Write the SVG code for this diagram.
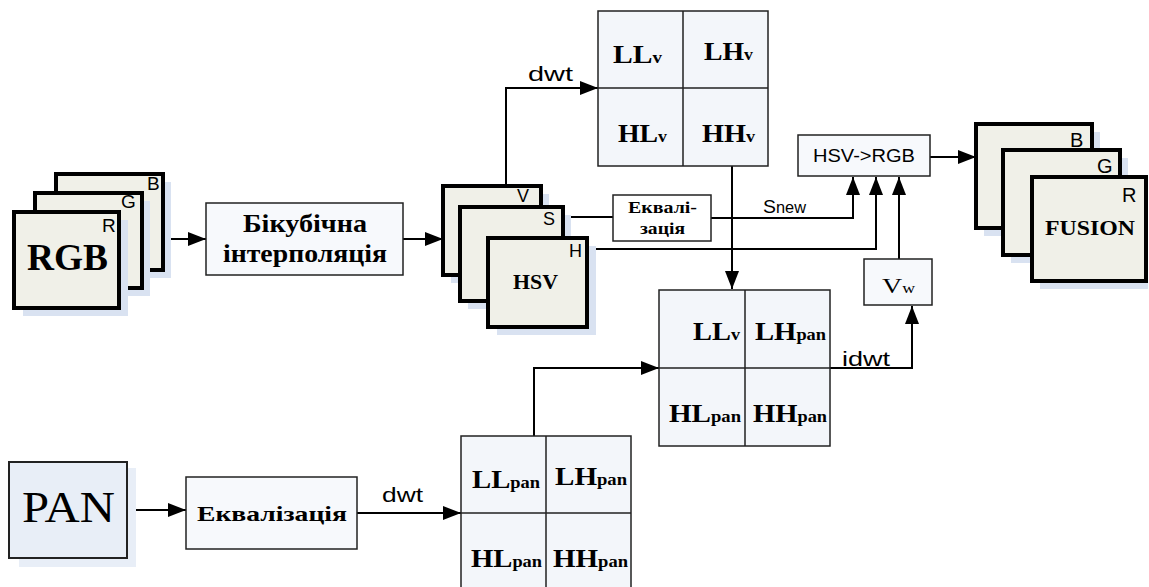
<svg xmlns="http://www.w3.org/2000/svg" width="1149" height="587" viewBox="0 0 1149 587">
<style>
.frame{fill:#f0f0e8;stroke:#000;stroke-width:4}
.shadow{fill:#d9e2f1}
.box{fill:#f7f9fc;stroke:#222;stroke-width:1.5}
.grid{fill:#f3f6fa;stroke:#222;stroke-width:1.5}
.conn{fill:none;stroke:#000;stroke-width:2}
.div{fill:none;stroke:#222;stroke-width:1.5}
.sans{font-family:"Liberation Sans",Arial,sans-serif;fill:#000}
.serif{font-family:"Liberation Serif","Times New Roman",serif;fill:#000}
.b{font-weight:bold}
</style>
<defs>
<marker id="arr" markerUnits="userSpaceOnUse" markerWidth="18" markerHeight="14" refX="18" refY="7" orient="auto">
<path d="M0,0 L18,7 L0,14 z" fill="#000"/>
</marker>
</defs>

<g id="connectors">
<path class="conn" d="M163,239 L206,239" marker-end="url(#arr)"/>
<path class="conn" d="M403,239 L443,239" marker-end="url(#arr)"/>
<path class="conn" d="M506,186 L506,88 L598,88" marker-end="url(#arr)"/>
<path class="conn" d="M563,217 L613,217"/>
<path class="conn" d="M711,218 L853,218 L853,177" marker-end="url(#arr)"/>
<path class="conn" d="M587,249 L876,249 L876,177" marker-end="url(#arr)"/>
<path class="conn" d="M899,259 L899,177" marker-end="url(#arr)"/>
<path class="conn" d="M732,166 L732,289" marker-end="url(#arr)"/>
<path class="conn" d="M930,157 L976,157" marker-end="url(#arr)"/>
<path class="conn" d="M830,368 L912,368 L912,306" marker-end="url(#arr)"/>
<path class="conn" d="M534,436 L534,368 L659,368" marker-end="url(#arr)"/>
<path class="conn" d="M127,510 L186,510" marker-end="url(#arr)"/>
<path class="conn" d="M357,513 L461,513" marker-end="url(#arr)"/>
<text class="sans" x="528" y="81" font-size="21" textLength="45" lengthAdjust="spacingAndGlyphs">dwt</text>
<text class="sans" x="382" y="502" font-size="21" textLength="41" lengthAdjust="spacingAndGlyphs">dwt</text>
<text class="sans" x="842" y="366" font-size="21" textLength="48" lengthAdjust="spacingAndGlyphs">idwt</text>
<text class="sans" x="763" y="213" font-size="19" textLength="43" lengthAdjust="spacingAndGlyphs">S<tspan font-size="16">new</tspan></text>
</g>

<g id="rgb">
<rect class="shadow" x="64" y="182" width="107" height="96"/>
<rect class="frame" x="56" y="174" width="107" height="96"/>
<rect class="shadow" x="43" y="201" width="107" height="95"/>
<rect class="frame" x="35" y="193" width="107" height="95"/>
<rect class="shadow" x="23" y="220" width="105" height="96"/>
<rect class="frame" x="14" y="212" width="105" height="96"/>
<text class="sans" x="147" y="190" font-size="19">B</text>
<text class="sans" x="121" y="208" font-size="19">G</text>
<text class="sans" x="102" y="232" font-size="19">R</text>
<text class="serif b" x="27" y="270" font-size="37" textLength="81" lengthAdjust="spacingAndGlyphs">RGB</text>
</g>

<g id="bicubic">
<rect class="box" x="206" y="203" width="197" height="72"/>
<text class="serif b" x="243" y="232" font-size="25" textLength="124" lengthAdjust="spacingAndGlyphs">Бікубічна</text>
<text class="serif b" x="223" y="262" font-size="25" textLength="164" lengthAdjust="spacingAndGlyphs">інтерполяція</text>
</g>

<g id="hsv">
<rect class="shadow" x="451" y="194" width="98" height="89"/>
<rect class="frame" x="443" y="186" width="98" height="89"/>
<rect class="shadow" x="468" y="215" width="103" height="94"/>
<rect class="frame" x="460" y="207" width="103" height="94"/>
<rect class="shadow" x="497" y="246" width="99" height="89"/>
<rect class="frame" x="488" y="238" width="99" height="89"/>
<text class="sans" x="517" y="202" font-size="18">V</text>
<text class="sans" x="543" y="225" font-size="18">S</text>
<text class="sans" x="569" y="257" font-size="18">H</text>
<text class="serif b" x="513" y="289" font-size="21" textLength="45" lengthAdjust="spacingAndGlyphs">HSV</text>
</g>

<g id="equal-s">
<rect x="613" y="195" width="98" height="46" fill="#fff" stroke="#222" stroke-width="1.5"/>
<text class="serif b" x="628" y="213" font-size="16" textLength="69" lengthAdjust="spacingAndGlyphs">Еквалі-</text>
<text class="serif b" x="640" y="234" font-size="16" textLength="45" lengthAdjust="spacingAndGlyphs">зація</text>
</g>

<g id="grid-v">
<rect class="grid" x="598" y="11" width="170" height="155"/>
<path class="div" d="M683,11 L683,166 M598,88 L768,88"/>
<text class="serif b" x="613" y="63" font-size="25" textLength="49" lengthAdjust="spacingAndGlyphs">LL<tspan font-size="16">v</tspan></text>
<text class="serif b" x="704" y="60" font-size="25" textLength="49" lengthAdjust="spacingAndGlyphs">LH<tspan font-size="16">v</tspan></text>
<text class="serif b" x="618" y="142" font-size="25" textLength="49" lengthAdjust="spacingAndGlyphs">HL<tspan font-size="16">v</tspan></text>
<text class="serif b" x="702" y="142" font-size="25" textLength="53" lengthAdjust="spacingAndGlyphs">HH<tspan font-size="16">v</tspan></text>
</g>

<g id="hsv2rgb">
<rect class="box" x="798" y="135" width="132" height="41"/>
<text class="sans" x="813" y="162" font-size="19" textLength="102" lengthAdjust="spacingAndGlyphs">HSV-&gt;RGB</text>
</g>

<g id="fusion">
<rect class="shadow" x="984" y="132" width="116" height="104"/>
<rect class="frame" x="976" y="124" width="116" height="104"/>
<rect class="shadow" x="1011" y="158" width="117" height="105"/>
<rect class="frame" x="1003" y="150" width="117" height="105"/>
<rect class="shadow" x="1040" y="185" width="108" height="104"/>
<rect class="frame" x="1032" y="177" width="114" height="104"/>
<text class="sans" x="1070" y="147" font-size="20">B</text>
<text class="sans" x="1097" y="173" font-size="20">G</text>
<text class="sans" x="1122" y="202" font-size="20">R</text>
<text class="serif b" x="1045" y="235" font-size="21" textLength="90" lengthAdjust="spacingAndGlyphs">FUSION</text>
</g>

<g id="vw">
<rect class="box" x="864" y="259" width="68" height="46"/>
<text class="serif" x="882" y="293" font-size="22" textLength="33" lengthAdjust="spacingAndGlyphs">V<tspan font-size="14">w</tspan></text>
</g>

<g id="grid-fused">
<rect class="grid" x="659" y="290" width="171" height="156"/>
<path class="div" d="M745,290 L745,446 M659,368 L830,368"/>
<text class="serif b" x="693" y="340" font-size="25" textLength="47" lengthAdjust="spacingAndGlyphs">LL<tspan font-size="16">v</tspan></text>
<text class="serif b" x="755" y="340" font-size="25" textLength="71" lengthAdjust="spacingAndGlyphs">LH<tspan font-size="16">pan</tspan></text>
<text class="serif b" x="669" y="422" font-size="25" textLength="72" lengthAdjust="spacingAndGlyphs">HL<tspan font-size="16">pan</tspan></text>
<text class="serif b" x="753" y="422" font-size="25" textLength="74" lengthAdjust="spacingAndGlyphs">HH<tspan font-size="16">pan</tspan></text>
</g>

<g id="pan">
<rect x="19" y="468" width="117" height="99" fill="#e8eef7"/>
<rect x="9" y="462" width="118" height="96" fill="#e8eef7" stroke="#222" stroke-width="2"/>
<text class="serif" x="22" y="522" font-size="44" textLength="93" lengthAdjust="spacingAndGlyphs">PAN</text>
</g>

<g id="equal-pan">
<rect class="box" x="186" y="477" width="171" height="72"/>
<text class="serif b" x="197" y="521" font-size="22" textLength="150" lengthAdjust="spacingAndGlyphs">Еквалізація</text>
</g>

<g id="grid-pan">
<rect class="grid" x="461" y="436" width="170" height="153"/>
<path class="div" d="M546,436 L546,589 M461,513 L631,513"/>
<text class="serif b" x="472" y="488" font-size="25" textLength="68" lengthAdjust="spacingAndGlyphs">LL<tspan font-size="16">pan</tspan></text>
<text class="serif b" x="555" y="485" font-size="25" textLength="72" lengthAdjust="spacingAndGlyphs">LH<tspan font-size="16">pan</tspan></text>
<text class="serif b" x="471" y="567" font-size="25" textLength="71" lengthAdjust="spacingAndGlyphs">HL<tspan font-size="16">pan</tspan></text>
<text class="serif b" x="553" y="567" font-size="25" textLength="75" lengthAdjust="spacingAndGlyphs">HH<tspan font-size="16">pan</tspan></text>
</g>
</svg>
